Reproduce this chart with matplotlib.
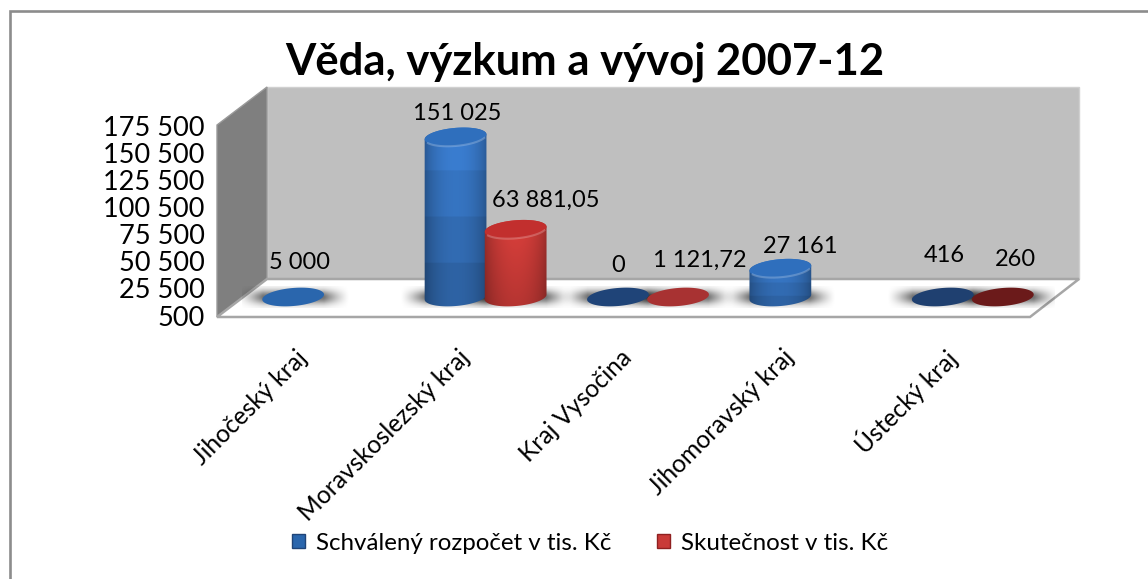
import numpy as np
import matplotlib
matplotlib.use('Agg')
import matplotlib.pyplot as plt
from matplotlib.patches import Polygon, Patch

plt.rcParams['font.family'] = ['Lato', 'DejaVu Sans']

# data
categories = ['Jihočeský kraj', 'Moravskoslezský kraj', 'Kraj Vysočina', 'Jihomoravský kraj', 'Ústecký kraj']
schvaleny = [5000, 151025, 0, 27161, 416]
skutecnost = [None, 63881.05, 1121.72, None, 260]
schvaleny_labels = ['5 000', '151 025', '0', '27 161', '416']
skutecnost_labels = [None, '63 881,05', '1 121,72', None, '260']
y_ticks = [500, 25500, 50500, 75500, 100500, 125500, 150500, 175500]
y_ticklabels = ['500', '25 500', '50 500', '75 500', '100 500', '125 500', '150 500', '175 500']
series_names = ['Schválený rozpočet v tis. Kč', 'Skutečnost v tis. Kč']

# label offsets from the top of each cylinder (pixels)
blue_offsets = [(6, 29), (2, 23), (0, 32), (20, 22), (2, 41)]
red_offsets = [None, (30, 29), (22, 35), None, (13, 37)]
blue_tops = ['#2a66ad', '#2f6fbd', '#1f4478', '#2f6fbd', '#1f4070']
red_tops = [None, '#c22f2e', '#a83232', None, '#6b1a1a']

W, H = 1148, 579
fig = plt.figure(figsize=(W / 100, H / 100), dpi=100, facecolor='white')

# frame, walls and floor in pixel coordinates
bg = fig.add_axes([0, 0, 1, 1])
bg.set_xlim(0, W)
bg.set_ylim(H, 0)
bg.axis('off')
bg.plot([9.5, 9.5, W], [H, 10.5, 10.5], color='#8c8c8c', lw=1.9, solid_joinstyle='miter')
bg.add_patch(Polygon([(267, 87), (1079, 87), (1079, 279), (267, 279)], fc='#bfbfbf', ec='#d0d0d0', lw=1))
bg.add_patch(Polygon([(217, 125), (267, 87), (267, 279), (217, 317)], fc='#7f7f7f', ec='#9a9a9a', lw=1))
bg.add_patch(Polygon([(217, 317), (267, 279), (1079, 279), (1030, 317)], fc='white', ec='#a6a6a6', lw=1.8))

# main axes, the value 0 sits at the cylinder base
PX_PER_UNIT = 0.00106
left, right, top, bottom = 242, 1054, 87, 317
ax = fig.add_axes([left / W, 1 - bottom / H, (right - left) / W, (bottom - top) / H])
ax.patch.set_alpha(0)
y_min, y_max = -20 / PX_PER_UNIT, 210 / PX_PER_UNIT
x_per_px = 5 / (right - left)
y_per_px = 1 / PX_PER_UNIT


def ellipse_pts(cx, cy, t):
    a, b, phi = 31, 9, np.radians(5)
    dx = a * np.cos(t) * np.cos(phi) - b * np.sin(t) * np.sin(phi)
    dy = a * np.cos(t) * np.sin(phi) + b * np.sin(t) * np.cos(phi)
    return np.column_stack([cx + dx * x_per_px, cy + dy * y_per_px])


def shade_image(rgb, bands, n=80):
    u = np.linspace(0, 1, n)
    prof = 0.62 + 0.38 * np.sin(np.pi * u) ** 0.55
    v = np.linspace(0, 1, 120)
    img = np.ones((120, n, 3))
    for c in range(3):
        img[:, :, c] = np.outer(bands(v), prof) * rgb[c]
    return np.clip(img, 0, 1)


def draw_shadow(cx):
    u = np.linspace(-1, 1, 120)
    v = np.linspace(-1, 1, 30)
    alpha = np.outer(np.exp(-(v * 1.5) ** 2), np.clip((1 - np.abs(u)) * 2.2, 0, 1) ** 1.3) * 0.55
    img = np.zeros((30, 120, 4))
    img[:, :, 3] = alpha
    ax.imshow(img, extent=[cx - 56 * x_per_px, cx + 56 * x_per_px, -11 * y_per_px, 11 * y_per_px],
              aspect='auto', zorder=1, interpolation='bilinear')


def draw_cylinder(cx, val, rgb, top_rgb, bands, z):
    # very low values only show as a flat disc
    h = val if val > 6000 else 0
    if h > 0:
        pts = np.vstack([ellipse_pts(cx, h, np.linspace(np.pi, 0, 50)),
                         ellipse_pts(cx, 0, np.linspace(0, -np.pi, 50))])
        im = ax.imshow(shade_image(rgb, bands), aspect='auto', zorder=z, interpolation='bilinear',
                       extent=[cx - 33 * x_per_px, cx + 33 * x_per_px, -12 * y_per_px, h + 12 * y_per_px])
        im.set_clip_path(Polygon(pts, transform=ax.transData))
    ax.add_patch(Polygon(ellipse_pts(cx, h, np.linspace(0, 2 * np.pi, 80)), fc=top_rgb, ec='none', zorder=z + 0.5))
    if h > 0:
        rim = ellipse_pts(cx, h, np.linspace(-0.4, -2.7, 40))
        ax.plot(rim[:, 0], rim[:, 1], color='white', alpha=0.22, lw=1.5, zorder=z + 0.6)


blue_rgb = np.array(matplotlib.colors.to_rgb('#3a7dd0'))
red_rgb = np.array(matplotlib.colors.to_rgb('#dc403c'))
blue_bands = lambda v: 1.0 - 0.07 * np.floor(v * 4)
red_bands = lambda v: 1.0 - 0.18 * v
x_off = 0.185

for i in range(len(categories)):
    x_b = i - x_off
    draw_shadow(x_b)
    draw_cylinder(x_b, schvaleny[i], blue_rgb, blue_tops[i], blue_bands, 3 + i)
    dx, dy = blue_offsets[i]
    ax.annotate(schvaleny_labels[i], (x_b, schvaleny[i]), xytext=(dx, dy), textcoords='offset pixels',
                ha='center', va='center', fontsize=17, color='black', zorder=20)
    if skutecnost[i] is not None:
        x_r = i + x_off
        draw_shadow(x_r)
        draw_cylinder(x_r, skutecnost[i], red_rgb, red_tops[i], red_bands, 3.7 + i)
        dx, dy = red_offsets[i]
        ax.annotate(skutecnost_labels[i], (x_r, skutecnost[i]), xytext=(dx, dy), textcoords='offset pixels',
                    ha='center', va='center', fontsize=17, color='black', zorder=20)

ax.set_xlim(-0.5, 4.5)
ax.set_ylim(y_min, y_max)
ax.axis('off')

# category labels, rotated under the front edge of the floor
for i, name in enumerate(categories):
    ax.annotate(name, (i, 0), xycoords=ax.get_xaxis_transform(), xytext=(-20, -37), textcoords='offset pixels',
                rotation=45, rotation_mode='anchor', ha='right', va='center', fontsize=17.7, color='black')

# value axis has its own scale on the front plane
ax_y = fig.add_axes([217 / W, 1 - 315.5 / H, 0.01, (315.5 - 126) / H])
ax_y.patch.set_alpha(0)
ax_y.set_ylim(y_ticks[0], y_ticks[-1])
ax_y.set_yticks(y_ticks)
ax_y.set_yticklabels(y_ticklabels, fontsize=19.5)
ax_y.tick_params(axis='y', length=0, pad=9)
ax_y.set_xticks([])
for s in ax_y.spines.values():
    s.set_visible(False)

fig.text(585 / W, 1 - 62 / H, 'Věda, výzkum a vývoj 2007-12', ha='center', va='center',
         fontsize=31.4, fontweight='bold', color='black')

handles = [Patch(fc='#2a66ad', ec='#1f4478'), Patch(fc='#c93a38', ec='#8f2020')]
fig.legend(handles, series_names, loc='center', bbox_to_anchor=(590 / W, 1 - 543 / H), ncol=2, frameon=False,
           fontsize=17.4, handlelength=0.55, handleheight=0.55, handletextpad=0.45, columnspacing=1.9)

fig.savefig('out.png', dpi=100)
